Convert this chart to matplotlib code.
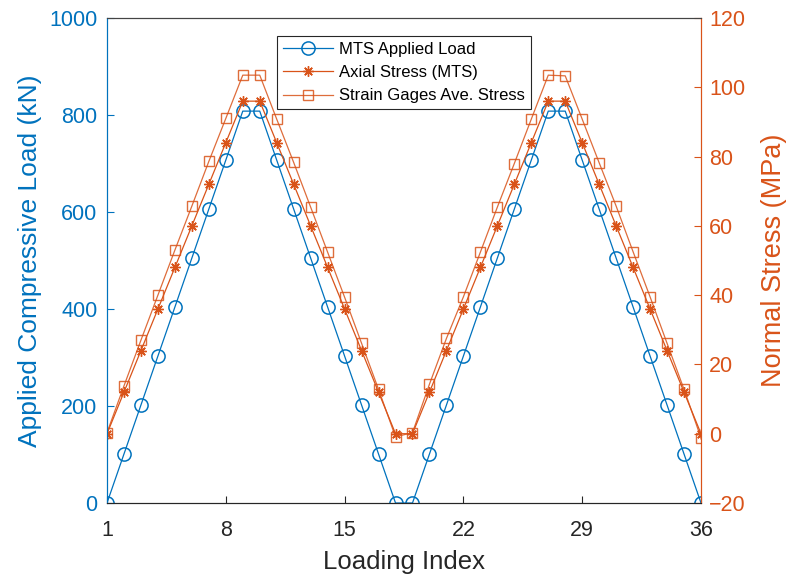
import numpy as np
import matplotlib
matplotlib.use('Agg')
import matplotlib.pyplot as plt

plt.rcParams['font.family'] = ['Liberation Sans', 'DejaVu Sans']

# data
idx = np.arange(1, 37)
load_kN = [0, 101, 202, 303, 404, 505, 606, 707, 808, 808, 707, 606, 505, 404, 303, 202, 101, 0,
           0, 101, 202, 303, 404, 505, 606, 707, 808, 808, 707, 606, 505, 404, 303, 202, 101, 0]
axial_mts = [0, 12, 24, 36, 48, 60, 72, 84, 96, 96, 84, 72, 60, 48, 36, 24, 12, 0,
             0, 12, 24, 36, 48, 60, 72, 84, 96, 96, 84, 72, 60, 48, 36, 24, 12, 0]
strain_gage = [0.3, 13.8, 27.0, 40.0, 53.0, 65.7, 78.6, 91.0, 103.5, 103.5, 90.8, 78.3, 65.4, 52.4,
               39.4, 26.1, 12.8, -0.9, 0.3, 14.3, 27.5, 39.5, 52.4, 65.4, 78.0, 90.8, 103.5, 103.3,
               90.8, 78.2, 65.7, 52.5, 39.5, 26.1, 12.8, -1.2]
xticks = [1, 8, 15, 22, 29, 36]

blue = '#0072BD'
orange = '#D95319'
dark = '#262626'

fig = plt.figure(figsize=(7.86, 5.77), dpi=100)
ax = fig.add_axes([107 / 786, 74 / 577, 594 / 786, 485 / 577])
ax2 = ax.twinx()

# matlab style asterisk: 8 spokes
asterisk = (8, 2, 0)

l1, = ax.plot(idx, load_kN, '-o', color=blue, lw=0.9, ms=9.5, mfc='none', mew=1.1,
              label='MTS Applied Load')
l2, = ax2.plot(idx, axial_mts, '-', marker=asterisk, color=orange, lw=0.9, ms=7.5, mew=1.0,
               label='Axial Stress (MTS)')
l3, = ax2.plot(idx, strain_gage, '-s', color=orange, lw=0.9, ms=6.5, mfc='none', mew=1.0,
               alpha=0.85, label='Strain Gages Ave. Stress')

ax.set_xlim(1, 36)
ax.set_ylim(0, 1000)
ax2.set_ylim(-20, 120)
ax.set_xticks(xticks)
ax.set_yticks(np.arange(0, 1001, 200))
ax2.set_yticks(np.arange(-20, 121, 20))

ax.set_xlabel('Loading Index', fontsize=18.5, color=dark, labelpad=7)
ax.set_ylabel('Applied Compressive Load (kN)', fontsize=19, color=blue, labelpad=5)
ax2.set_ylabel('Normal Stress (MPa)', fontsize=19.5, color=orange, labelpad=11)

ax.tick_params(axis='x', direction='in', labelsize=15.5, colors=dark, length=5, pad=12)
ax.tick_params(axis='y', direction='in', labelsize=15.5, colors=blue, length=5, pad=7)
ax2.tick_params(axis='y', direction='in', labelsize=15.5, colors=orange, length=5, pad=6)

for a in (ax, ax2):
    a.spines['top'].set_color('#444444')
    a.spines['bottom'].set_color(dark)
    a.spines['left'].set_color(blue)
    a.spines['right'].set_color(orange)
    a.spines[:].set_linewidth(0.8)

leg = ax2.legend(handles=[l1, l2, l3], loc='upper center', bbox_to_anchor=(0.5, 0.963),
                 borderaxespad=0, fontsize=12, fancybox=False, framealpha=1, edgecolor=dark,
                 handlelength=3.0, borderpad=0.35, labelspacing=0.5, handletextpad=0.4)
leg.get_frame().set_linewidth(0.8)

fig.savefig('out.png', dpi=100)
